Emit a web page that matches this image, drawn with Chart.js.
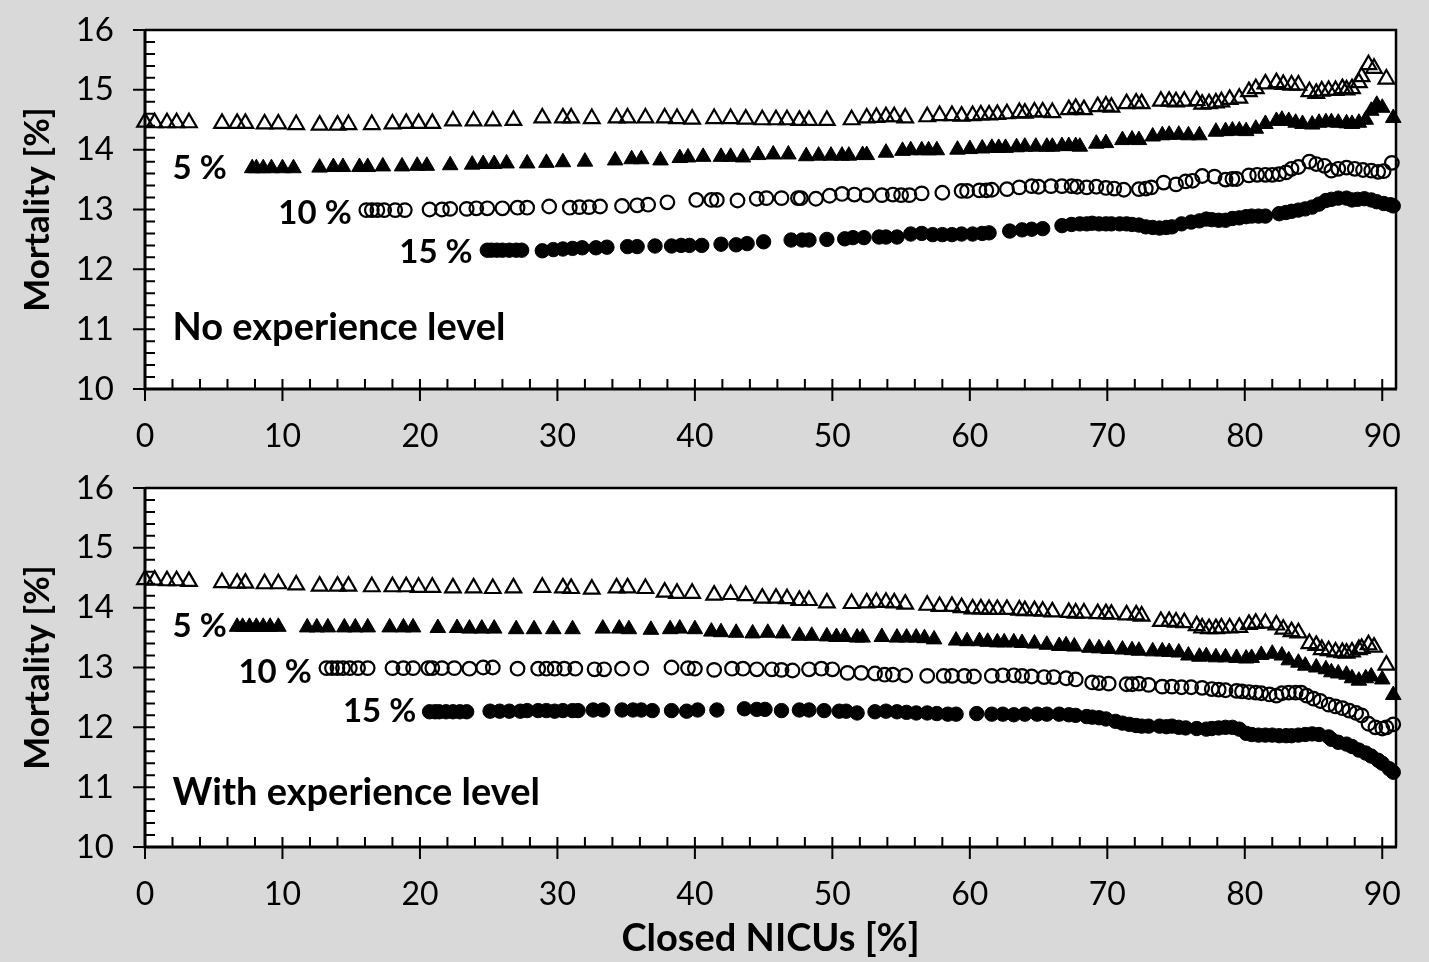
<!DOCTYPE html>
<html lang="en">
<head>
    <meta charset="UTF-8">
    <title>Mortality vs closed NICUs</title>
    <script src="https://cdn.jsdelivr.net/npm/chart.js"></script>
    <style>
        body {
            margin: 0;
            width: 1429px;
            height: 962px;
            overflow: hidden;
            background: #d9d9d9;
            font-family: 'Lato', sans-serif;
        }
        .panel {
            position: absolute;
            left: 0;
        }
        #topPanel { top: 0; }
        #bottomPanel { top: 460px; }
    </style>
</head>
<body>
    <canvas id="topPanel" class="panel" width="1429" height="470"></canvas>
    <canvas id="bottomPanel" class="panel" width="1429" height="502"></canvas>

    <script>
        // axis ticks
        const xTicks = [0, 10, 20, 30, 40, 50, 60, 70, 80, 90];
        const yTicks = [10, 11, 12, 13, 14, 15, 16];

        // ---- No experience level (top) : [closed NICUs %, mortality %] ----
        const noExpBase = [
            [0, 14.46], [0.7, 14.45], [1.6, 14.45], [2.3, 14.45], [3.2, 14.45],
            [5.6, 14.44], [6.7, 14.44], [7.3, 14.44], [8.7, 14.43], [9.7, 14.43],
            [11.0, 14.42], [12.7, 14.41], [14.0, 14.41], [14.8, 14.42], [16.5, 14.42],
            [18.0, 14.43], [19.0, 14.44], [19.9, 14.44], [20.9, 14.44], [22.4, 14.48],
            [23.9, 14.48], [25.3, 14.48], [26.8, 14.49], [28.9, 14.53], [30.4, 14.53], [31.0, 14.53], [32.5, 14.52],
            [34.3, 14.53], [35.1, 14.53], [36.4, 14.53], [37.8, 14.53], [38.7, 14.52], [39.8, 14.51], [41.4, 14.52],
            [42.6, 14.52], [43.7, 14.51], [44.9, 14.5], [45.9, 14.5], [46.7, 14.5], [47.6, 14.49], [48.3, 14.49],
            [49.6, 14.49], [51.4, 14.5], [52.5, 14.53], [53.2, 14.54], [53.9, 14.55], [54.5, 14.55], [55.3, 14.53],
            [56.9, 14.55], [57.8, 14.57], [58.7, 14.57], [59.4, 14.56], [60.2, 14.57], [60.8, 14.58], [61.4, 14.58],
            [62.0, 14.59], [62.7, 14.6], [63.6, 14.62], [64.0, 14.61], [64.7, 14.63], [65.3, 14.63], [66.0, 14.62],
            [67.2, 14.67], [67.7, 14.69], [68.3, 14.67], [69.3, 14.72], [69.9, 14.73], [70.3, 14.71], [71.4, 14.77],
            [72.1, 14.78], [72.5, 14.77], [73.9, 14.81], [74.5, 14.81], [75.0, 14.8], [75.6, 14.81], [76.5, 14.82],
            [76.9, 14.76], [77.4, 14.77], [77.9, 14.78], [78.3, 14.8], [78.9, 14.84], [79.6, 14.86], [80.3, 14.97],
            [80.8, 15.02], [81.5, 15.1], [82.3, 15.12], [82.8, 15.09], [83.4, 15.08], [83.9, 15.08], [84.7, 14.97],
            [85.2, 14.94], [85.6, 14.98], [86.1, 14.99], [86.6, 14.99], [87.1, 15.02], [87.4, 15.0], [87.8, 15.02],
            [88.3, 15.12], [88.5, 15.22], [89.0, 15.42], [89.4, 15.36], [90.3, 15.18]
        ];
        const noExp5 = [
            [7.8, 13.69], [8.1, 13.69], [8.6, 13.69], [9.2, 13.69], [10.0, 13.69], [10.8, 13.69], [12.7, 13.7],
            [13.7, 13.71], [14.4, 13.71], [15.6, 13.71], [16.2, 13.71], [17.3, 13.72], [18.7, 13.72], [19.8, 13.73],
            [20.5, 13.73], [22.2, 13.74], [23.8, 13.75], [24.6, 13.76], [25.4, 13.76], [26.3, 13.77], [27.8, 13.77],
            [29.2, 13.78], [30.4, 13.79], [32.0, 13.8], [34.2, 13.82], [35.4, 13.84], [36.1, 13.84], [37.5, 13.82],
            [38.9, 13.86], [39.5, 13.87], [40.6, 13.88], [41.9, 13.88], [42.6, 13.88], [43.5, 13.87], [44.6, 13.91],
            [45.7, 13.92], [46.8, 13.92], [48.1, 13.89], [49.0, 13.9], [49.9, 13.9], [50.7, 13.9], [51.2, 13.9],
            [52.2, 13.91], [52.5, 13.91], [53.9, 13.95], [55.1, 13.98], [55.7, 13.99], [56.5, 13.99], [57.0, 13.99],
            [57.6, 13.99], [59.1, 14.0], [60.0, 14.01], [60.9, 14.02], [61.6, 14.03], [62.1, 14.03], [62.6, 14.03],
            [63.4, 14.04], [64.0, 14.05], [64.8, 14.05], [65.6, 14.05], [66.0, 14.05], [66.7, 14.06], [67.2, 14.06],
            [67.7, 14.06], [68.0, 14.05], [69.2, 14.1], [69.9, 14.11], [71.1, 14.16], [71.8, 14.17], [72.3, 14.16],
            [73.3, 14.22], [74.0, 14.24], [74.5, 14.25], [75.2, 14.25], [75.9, 14.24], [76.7, 14.24], [77.9, 14.3],
            [78.6, 14.31], [79.1, 14.32], [79.6, 14.32], [80.1, 14.31], [80.8, 14.35], [81.5, 14.43], [82.3, 14.48],
            [82.7, 14.5], [83.2, 14.48], [83.7, 14.45], [84.2, 14.43], [84.9, 14.42], [85.4, 14.45], [85.9, 14.46],
            [86.3, 14.46], [86.8, 14.45], [87.4, 14.44], [87.8, 14.43], [88.3, 14.45], [88.8, 14.5], [89.2, 14.65],
            [89.6, 14.75], [90.0, 14.7], [90.8, 14.53]
        ];
        const noExp10 = [
            [16.1, 12.99], [16.5, 12.99], [16.9, 12.99], [17.4, 12.99], [18.2, 12.99], [18.9, 12.99], [20.7, 13.0],
            [21.6, 13.0], [22.2, 13.01], [23.4, 13.01], [24.1, 13.02], [24.9, 13.02], [26.0, 13.02], [27.1, 13.03],
            [27.8, 13.03], [29.4, 13.05], [30.9, 13.03], [31.6, 13.04], [32.3, 13.04], [33.1, 13.05], [34.7, 13.06],
            [35.8, 13.07], [36.6, 13.08], [38.0, 13.12], [40.1, 13.16], [41.2, 13.16], [41.6, 13.16], [43.1, 13.15],
            [44.5, 13.18], [45.2, 13.19], [46.3, 13.19], [47.5, 13.19], [47.7, 13.19], [48.8, 13.18], [49.8, 13.23],
            [50.7, 13.26], [51.6, 13.25], [52.5, 13.24], [53.6, 13.24], [54.4, 13.25], [55.0, 13.24], [55.6, 13.24],
            [56.5, 13.27], [58.0, 13.28], [59.4, 13.31], [59.8, 13.31], [60.7, 13.32], [61.2, 13.32], [61.6, 13.33],
            [62.7, 13.34], [63.6, 13.37], [64.5, 13.39], [65.0, 13.38], [65.9, 13.39], [66.7, 13.39], [67.4, 13.39],
            [67.8, 13.38], [68.5, 13.37], [69.2, 13.38], [69.9, 13.36], [70.5, 13.35], [71.2, 13.33], [72.3, 13.34],
            [72.8, 13.35], [73.2, 13.37], [74.1, 13.45], [75.0, 13.42], [75.7, 13.47], [76.2, 13.48], [76.9, 13.56],
            [77.8, 13.55], [78.6, 13.5], [79.1, 13.51], [79.4, 13.51], [80.3, 13.57], [80.9, 13.58], [81.5, 13.58],
            [82.0, 13.58], [82.5, 13.59], [83.0, 13.62], [83.4, 13.68], [83.9, 13.71], [84.7, 13.8], [85.2, 13.76],
            [85.8, 13.73], [86.3, 13.65], [86.8, 13.68], [87.4, 13.7], [88.0, 13.68], [88.6, 13.66], [89.2, 13.65],
            [89.7, 13.63], [90.1, 13.64], [90.7, 13.78]
        ];
        const noExp15 = [
            [24.9, 12.32], [25.2, 12.32], [25.6, 12.32], [26.0, 12.32], [26.5, 12.32], [27.0, 12.32], [27.4, 12.32],
            [28.9, 12.31], [29.7, 12.33], [30.4, 12.34], [31.1, 12.35], [31.8, 12.36], [32.8, 12.36], [33.6, 12.37],
            [35.1, 12.38], [35.8, 12.38], [37.1, 12.39], [38.3, 12.39], [39.0, 12.4], [39.6, 12.4], [40.5, 12.4],
            [41.9, 12.42], [43.0, 12.41], [43.8, 12.43], [45.0, 12.46], [47.0, 12.49], [47.8, 12.49], [48.3, 12.49],
            [49.6, 12.5], [50.9, 12.51], [51.5, 12.53], [52.3, 12.53], [53.4, 12.54], [53.9, 12.54], [54.7, 12.54],
            [55.7, 12.59], [56.5, 12.6], [57.3, 12.58], [58.0, 12.58], [58.7, 12.58], [59.4, 12.59], [60.2, 12.59],
            [60.9, 12.6], [61.4, 12.61], [62.9, 12.64], [63.8, 12.66], [64.5, 12.67], [65.3, 12.68], [66.7, 12.73],
            [67.4, 12.75], [68.0, 12.76], [68.5, 12.76], [68.9, 12.77], [69.4, 12.76], [69.9, 12.76], [70.3, 12.76],
            [70.9, 12.76], [71.4, 12.76], [71.8, 12.75], [72.3, 12.74], [72.8, 12.71], [73.3, 12.7], [73.8, 12.69],
            [74.3, 12.7], [74.7, 12.71], [75.4, 12.76], [76.1, 12.79], [76.7, 12.81], [77.2, 12.84], [77.6, 12.83],
            [78.1, 12.82], [78.6, 12.82], [79.1, 12.85], [79.6, 12.86], [80.1, 12.88], [80.5, 12.89], [81.0, 12.89],
            [81.5, 12.89], [82.5, 12.93], [83.0, 12.95], [83.4, 12.97], [83.9, 12.99], [84.4, 13.01], [84.9, 13.04],
            [85.4, 13.09], [85.9, 13.15], [86.3, 13.17], [86.8, 13.19], [87.4, 13.19], [87.8, 13.16], [88.2, 13.17],
            [88.7, 13.18], [89.2, 13.16], [89.6, 13.13], [90.1, 13.1], [90.6, 13.08], [90.8, 13.06]
        ];

        // ---- With experience level (bottom) ----
        const withExpBase = [
            [0, 14.47], [0.7, 14.46], [1.6, 14.45], [2.3, 14.45], [3.2, 14.44],
            [5.6, 14.42], [6.7, 14.41], [7.3, 14.41], [8.7, 14.4], [9.7, 14.4],
            [11.0, 14.38], [12.7, 14.36], [14.0, 14.36], [14.8, 14.36], [16.5, 14.35],
            [18.0, 14.35], [19.0, 14.35], [19.9, 14.34], [20.9, 14.34], [22.4, 14.33],
            [23.9, 14.33], [25.3, 14.32], [26.8, 14.33], [28.9, 14.34], [30.4, 14.33], [31.0, 14.32], [32.5, 14.31],
            [34.3, 14.33], [35.1, 14.33], [36.4, 14.32], [37.8, 14.26], [38.7, 14.24], [39.8, 14.24], [41.4, 14.21],
            [42.6, 14.22], [43.7, 14.2], [44.9, 14.16], [45.9, 14.16], [46.7, 14.15], [47.6, 14.12], [48.3, 14.12],
            [49.6, 14.08], [51.4, 14.07], [52.5, 14.08], [53.2, 14.09], [53.9, 14.09], [54.5, 14.08], [55.3, 14.06],
            [56.9, 14.04], [57.8, 14.02], [58.7, 14.02], [59.4, 14.0], [60.2, 13.98], [60.8, 13.98], [61.4, 13.97],
            [62.0, 13.97], [62.7, 13.97], [63.6, 13.96], [64.0, 13.95], [64.7, 13.95], [65.3, 13.94], [66.0, 13.93],
            [67.2, 13.92], [67.7, 13.91], [68.3, 13.91], [69.3, 13.9], [69.9, 13.9], [70.3, 13.89], [71.4, 13.88],
            [72.1, 13.88], [72.5, 13.86], [73.9, 13.77], [74.5, 13.77], [75.0, 13.76], [75.6, 13.75], [76.5, 13.7],
            [76.9, 13.66], [77.4, 13.65], [77.9, 13.65], [78.3, 13.66], [78.9, 13.66], [79.6, 13.67], [80.3, 13.72],
            [80.8, 13.74], [81.5, 13.74], [82.3, 13.71], [82.8, 13.64], [83.4, 13.6], [83.9, 13.58], [84.7, 13.4],
            [85.2, 13.37], [85.6, 13.3], [86.1, 13.28], [86.6, 13.26], [87.1, 13.25], [87.4, 13.24], [87.8, 13.26],
            [88.3, 13.3], [88.5, 13.32], [89.0, 13.38], [89.4, 13.34], [90.3, 13.04]
        ];
        const withExp5 = [
            [6.7, 13.68], [7.1, 13.68], [7.6, 13.68], [8.1, 13.68], [8.6, 13.68], [9.1, 13.68], [9.7, 13.68],
            [11.8, 13.67], [12.5, 13.67], [13.3, 13.67], [14.5, 13.67], [15.3, 13.67], [16.2, 13.67], [17.8, 13.67],
            [18.8, 13.67], [19.5, 13.67], [21.3, 13.66], [22.7, 13.66], [23.6, 13.65], [24.5, 13.65], [25.4, 13.65],
            [27.0, 13.64], [28.3, 13.64], [29.7, 13.64], [31.1, 13.64], [33.3, 13.65], [34.5, 13.65], [35.2, 13.64],
            [36.8, 13.63], [38.2, 13.64], [38.9, 13.65], [40.0, 13.64], [41.2, 13.6], [41.9, 13.59], [43.0, 13.58],
            [44.2, 13.57], [45.3, 13.58], [46.4, 13.57], [47.6, 13.53], [48.5, 13.53], [49.6, 13.52], [50.3, 13.51],
            [50.9, 13.51], [51.8, 13.5], [52.2, 13.5], [53.6, 13.51], [54.7, 13.5], [55.4, 13.5], [56.1, 13.5],
            [56.7, 13.49], [57.4, 13.47], [59.0, 13.45], [59.8, 13.44], [60.7, 13.44], [61.3, 13.43], [62.0, 13.42],
            [62.5, 13.42], [63.2, 13.42], [63.8, 13.41], [64.7, 13.4], [65.6, 13.38], [66.5, 13.36], [67.0, 13.37],
            [67.6, 13.35], [68.7, 13.33], [69.4, 13.32], [70.1, 13.31], [71.1, 13.3], [71.8, 13.29], [72.3, 13.28],
            [73.3, 13.27], [74.0, 13.27], [74.5, 13.26], [75.2, 13.25], [75.9, 13.2], [76.7, 13.18], [77.2, 13.19],
            [77.9, 13.17], [78.6, 13.17], [79.4, 13.16], [80.1, 13.15], [80.5, 13.16], [81.2, 13.21], [82.0, 13.23],
            [82.7, 13.2], [83.2, 13.12], [83.9, 13.08], [84.4, 13.03], [85.2, 13.0], [85.9, 12.97], [86.3, 12.92],
            [86.8, 12.9], [87.4, 12.88], [87.8, 12.82], [88.3, 12.78], [88.8, 12.82], [89.2, 12.85], [90.0, 12.8],
            [90.8, 12.54]
        ];
        const withExp10 = [
            [13.2, 12.99], [13.6, 12.99], [14.0, 12.99], [14.4, 12.99], [14.9, 12.99], [15.5, 12.99], [16.2, 12.99],
            [18.0, 12.99], [18.8, 12.99], [19.5, 12.99], [20.6, 12.99], [20.9, 12.99], [21.6, 12.99], [22.5, 12.99],
            [23.6, 12.98], [24.6, 13.0], [25.3, 13.0], [27.1, 12.98], [28.6, 12.98], [29.2, 12.98], [29.8, 12.98],
            [30.5, 12.98], [31.3, 12.98], [32.7, 12.97], [33.4, 12.97], [34.7, 12.98], [36.1, 12.99], [38.3, 13.0],
            [39.5, 12.99], [40.0, 12.98], [41.4, 12.96], [42.7, 12.98], [43.5, 12.98], [44.5, 12.97], [45.6, 12.97],
            [46.3, 12.96], [47.1, 12.95], [48.3, 12.97], [49.2, 12.98], [50.0, 12.97], [51.1, 12.91], [52.1, 12.91],
            [53.1, 12.9], [53.8, 12.88], [54.4, 12.88], [55.3, 12.87], [56.9, 12.86], [58.1, 12.86], [58.7, 12.86],
            [59.6, 12.86], [60.3, 12.85], [61.6, 12.86], [62.4, 12.87], [63.2, 12.87], [63.8, 12.86], [64.5, 12.85],
            [65.4, 12.84], [66.1, 12.84], [67.0, 12.82], [67.7, 12.8], [68.9, 12.75], [69.4, 12.74], [70.1, 12.73],
            [71.4, 12.72], [71.8, 12.72], [72.3, 12.73], [73.0, 12.71], [74.0, 12.68], [74.7, 12.68], [75.4, 12.67],
            [76.1, 12.67], [76.9, 12.66], [77.6, 12.64], [78.1, 12.63], [78.6, 12.62], [79.4, 12.61], [79.8, 12.6],
            [80.3, 12.59], [80.8, 12.58], [81.2, 12.57], [81.8, 12.55], [82.3, 12.53], [82.7, 12.57], [83.2, 12.58],
            [83.7, 12.58], [84.1, 12.58], [84.5, 12.53], [85.0, 12.48], [85.5, 12.44], [86.1, 12.38], [86.6, 12.35],
            [87.1, 12.32], [87.6, 12.28], [88.1, 12.24], [88.5, 12.2], [89.0, 12.06], [89.5, 12.0], [90.0, 11.98],
            [90.3, 12.0], [90.8, 12.05]
        ];
        const withExp15 = [
            [20.7, 12.26], [21.1, 12.26], [21.4, 12.26], [21.9, 12.26], [22.4, 12.26], [22.9, 12.26], [23.4, 12.26],
            [25.1, 12.27], [25.8, 12.27], [26.5, 12.27], [27.3, 12.27], [27.8, 12.28], [28.6, 12.28], [29.2, 12.28],
            [29.8, 12.27], [30.4, 12.28], [31.1, 12.28], [31.5, 12.28], [32.6, 12.29], [33.3, 12.29], [34.7, 12.29],
            [35.5, 12.29], [36.1, 12.29], [36.9, 12.28], [38.3, 12.28], [39.4, 12.27], [40.2, 12.29], [41.6, 12.29],
            [43.6, 12.31], [44.5, 12.3], [45.1, 12.3], [46.3, 12.28], [47.6, 12.29], [48.3, 12.29], [49.4, 12.28],
            [50.5, 12.27], [51.0, 12.27], [51.8, 12.24], [53.1, 12.26], [53.9, 12.27], [54.7, 12.26], [55.4, 12.25],
            [56.1, 12.24], [56.9, 12.24], [57.6, 12.23], [58.4, 12.22], [59.0, 12.22], [60.5, 12.23], [61.6, 12.22],
            [62.4, 12.22], [63.2, 12.21], [64.0, 12.22], [64.9, 12.22], [65.6, 12.22], [66.5, 12.22], [67.2, 12.21],
            [67.7, 12.2], [68.5, 12.18], [68.9, 12.17], [69.4, 12.16], [69.9, 12.14], [70.6, 12.1], [71.1, 12.07],
            [71.6, 12.05], [72.1, 12.03], [72.5, 12.02], [73.0, 12.02], [73.8, 12.02], [74.3, 12.01], [74.7, 12.02],
            [75.2, 12.0], [75.7, 11.99], [76.5, 11.98], [77.2, 11.97], [77.6, 11.98], [78.1, 11.99], [78.6, 12.0],
            [79.1, 12.0], [79.6, 11.97], [80.1, 11.9], [80.5, 11.88], [81.0, 11.87], [81.5, 11.87], [82.0, 11.87],
            [82.5, 11.86], [83.0, 11.86], [83.4, 11.86], [83.9, 11.87], [84.4, 11.88], [84.9, 11.89], [85.4, 11.88],
            [86.1, 11.84], [86.3, 11.8], [86.8, 11.75], [87.4, 11.72], [87.8, 11.68], [88.3, 11.62], [88.8, 11.57],
            [89.2, 11.52], [89.7, 11.45], [90.0, 11.4], [90.5, 11.31], [90.8, 11.25]
        ];

        // in-plot labels: [text, x (left edge), y (middle), font size]
        const noExpLabels = [
            ['5 %', 2.0, 13.69, 33], ['10 %', 9.7, 12.94, 33], ['15 %', 18.5, 12.29, 33],
            ['No experience level', 2.0, 11.02, 38]
        ];
        const withExpLabels = [
            ['5 %', 2.0, 13.69, 33], ['10 %', 6.8, 12.92, 33], ['15 %', 14.4, 12.27, 33],
            ['With experience level', 2.0, 10.9, 38]
        ];

        const FONT = 'Lato';

        const framePlugin = {
            id: 'frame',
            beforeDraw(chart) {
                const { ctx, chartArea: a } = chart;
                ctx.save();
                ctx.fillStyle = '#fff';
                ctx.fillRect(a.left, a.top, a.right - a.left, a.bottom - a.top);
                ctx.restore();
            },
            afterDatasetsDraw(chart) {
                const { ctx, scales: { x, y } } = chart;
                const labels = chart.options.plugins.frame.labels;
                ctx.save();
                ctx.fillStyle = '#000';
                ctx.textAlign = 'left';
                ctx.textBaseline = 'middle';
                labels.forEach(([t, lx, ly, size]) => {
                    ctx.font = 'bold ' + size + 'px ' + FONT;
                    ctx.fillText(t, x.getPixelForValue(lx), y.getPixelForValue(ly));
                });
                ctx.restore();
            },
            afterDraw(chart) {
                const { ctx, chartArea: a, scales: { x, y } } = chart;
                ctx.save();
                ctx.strokeStyle = '#000';
                ctx.lineCap = 'butt';
                // top and right border
                ctx.lineWidth = 2.5;
                ctx.beginPath();
                ctx.moveTo(a.left, a.top);
                ctx.lineTo(a.right, a.top);
                ctx.lineTo(a.right, a.bottom);
                ctx.stroke();
                // axes
                ctx.lineWidth = 3;
                ctx.beginPath();
                ctx.moveTo(a.left, a.top - 1);
                ctx.lineTo(a.left, a.bottom);
                ctx.lineTo(a.right + 1, a.bottom);
                ctx.stroke();
                // ticks
                ctx.lineWidth = 2;
                ctx.beginPath();
                yTicks.forEach(v => {
                    const py = y.getPixelForValue(v);
                    ctx.moveTo(a.left - 12, py); ctx.lineTo(a.left + 10, py);
                });
                for (let v = 10.2; v < 15.95; v += 0.2) {
                    if (Math.abs(v - Math.round(v)) < 0.05) continue;
                    const py = y.getPixelForValue(v);
                    ctx.moveTo(a.left, py); ctx.lineTo(a.left + 10, py);
                }
                xTicks.forEach(v => {
                    const px = x.getPixelForValue(v);
                    ctx.moveTo(px, a.bottom + 12); ctx.lineTo(px, a.bottom - 10);
                });
                for (let v = 2; v < 91; v += 2) {
                    if (v % 10 === 0) continue;
                    const px = x.getPixelForValue(v);
                    ctx.moveTo(px, a.bottom); ctx.lineTo(px, a.bottom - 10);
                }
                ctx.stroke();
                ctx.restore();
            }
        };

        function series(data, style, filled) {
            const tri = style === 'triangle';
            return {
                data: data.map(([x, y]) => ({ x, y })),
                pointStyle: style,
                pointRadius: tri ? 9 : (filled ? 7.2 : 6.8),
                pointBackgroundColor: filled ? '#000' : 'rgba(0,0,0,0)',
                pointBorderColor: '#000',
                pointBorderWidth: filled ? 1 : 2.2,
                showLine: false,
                clip: false
            };
        }

        function makeChart(id, sets, labels, opts) {
            new Chart(document.getElementById(id), {
                type: 'scatter',
                data: {
                    datasets: [
                        series(sets[0], 'triangle', false),
                        series(sets[1], 'triangle', true),
                        series(sets[2], 'circle', false),
                        series(sets[3], 'circle', true)
                    ]
                },
                options: {
                    responsive: false,
                    animation: false,
                    events: [],
                    layout: { padding: { left: 0, right: 33, top: opts.top, bottom: 0 } },
                    plugins: {
                        legend: { display: false },
                        tooltip: { enabled: false },
                        frame: { labels: labels }
                    },
                    scales: {
                        x: {
                            type: 'linear',
                            min: 0,
                            max: 91,
                            afterBuildTicks: s => { s.ticks = xTicks.map(v => ({ value: v })); },
                            afterFit: s => {
                                s.height = opts.xHeight;
                                s.paddingLeft = 0;
                                s.paddingRight = 0;
                            },
                            grid: { display: false, drawTicks: false },
                            border: { display: false },
                            ticks: { padding: 28, color: '#000', font: { family: FONT, size: 32 } },
                            title: {
                                display: opts.xTitle,
                                text: 'Closed NICUs [%]',
                                color: '#000',
                                font: { family: FONT, size: 38, weight: 'bold' },
                                padding: { top: 0, bottom: 0 }
                            }
                        },
                        y: {
                            type: 'linear',
                            min: 10,
                            max: 16,
                            afterBuildTicks: s => { s.ticks = yTicks.map(v => ({ value: v })); },
                            afterFit: s => {
                                s.width = 145;
                                s.paddingTop = 0;
                                s.paddingBottom = 0;
                            },
                            grid: { display: false, drawTicks: false },
                            border: { display: false },
                            ticks: { padding: 31, color: '#000', font: { family: FONT, size: 33 } },
                            title: {
                                display: true,
                                text: 'Mortality [%]',
                                color: '#000',
                                font: { family: FONT, size: 35, weight: 'bold' },
                                padding: { top: 17, bottom: 0 }
                            }
                        }
                    }
                },
                plugins: [framePlugin]
            });
        }

        makeChart('topPanel', [noExpBase, noExp5, noExp10, noExp15], noExpLabels,
            { top: 30, xHeight: 81, xTitle: false });
        makeChart('bottomPanel', [withExpBase, withExp5, withExp10, withExp15], withExpLabels,
            { top: 28, xHeight: 115, xTitle: true });
    </script>
</body>
</html>
